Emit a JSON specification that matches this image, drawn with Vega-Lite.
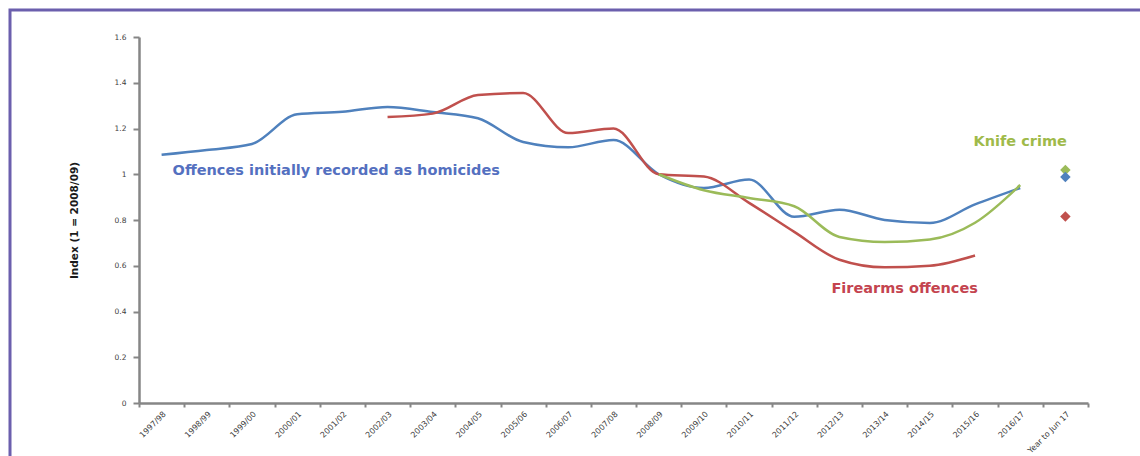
{
  "$schema": "https://vega.github.io/schema/vega-lite/v6.json",
  "width": 1140,
  "height": 456,
  "autosize": {"type": "none"},
  "padding": {"left": 10, "top": 10, "right": 0, "bottom": 0},
  "background": "white",
  "config": {
    "view": {"stroke": "#6b5fad", "strokeWidth": 3},
    "font": "DejaVu Sans"
  },
  "datasets": {
    "lines": [
      {"period": "1997/98", "series": "Homicides", "value": 1.085},
      {"period": "1998/99", "series": "Homicides", "value": 1.106},
      {"period": "1999/00", "series": "Homicides", "value": 1.132},
      {"period": "2000/01", "series": "Homicides", "value": 1.262},
      {"period": "2001/02", "series": "Homicides", "value": 1.273},
      {"period": "2002/03", "series": "Homicides", "value": 1.294},
      {"period": "2003/04", "series": "Homicides", "value": 1.272},
      {"period": "2004/05", "series": "Homicides", "value": 1.245},
      {"period": "2005/06", "series": "Homicides", "value": 1.141},
      {"period": "2006/07", "series": "Homicides", "value": 1.118},
      {"period": "2007/08", "series": "Homicides", "value": 1.15},
      {"period": "2008/09", "series": "Homicides", "value": 1.0},
      {"period": "2009/10", "series": "Homicides", "value": 0.94},
      {"period": "2010/11", "series": "Homicides", "value": 0.977},
      {"period": "2011/12", "series": "Homicides", "value": 0.814},
      {"period": "2012/13", "series": "Homicides", "value": 0.845},
      {"period": "2013/14", "series": "Homicides", "value": 0.8},
      {"period": "2014/15", "series": "Homicides", "value": 0.787},
      {"period": "2015/16", "series": "Homicides", "value": 0.868},
      {"period": "2016/17", "series": "Homicides", "value": 0.94},
      {"period": "2002/03", "series": "Firearms", "value": 1.25},
      {"period": "2003/04", "series": "Firearms", "value": 1.265},
      {"period": "2004/05", "series": "Firearms", "value": 1.346},
      {"period": "2005/06", "series": "Firearms", "value": 1.355},
      {"period": "2006/07", "series": "Firearms", "value": 1.18},
      {"period": "2007/08", "series": "Firearms", "value": 1.2},
      {"period": "2008/09", "series": "Firearms", "value": 1.0},
      {"period": "2009/10", "series": "Firearms", "value": 0.99},
      {"period": "2010/11", "series": "Firearms", "value": 0.875},
      {"period": "2011/12", "series": "Firearms", "value": 0.748},
      {"period": "2012/13", "series": "Firearms", "value": 0.626},
      {"period": "2013/14", "series": "Firearms", "value": 0.593},
      {"period": "2014/15", "series": "Firearms", "value": 0.6},
      {"period": "2015/16", "series": "Firearms", "value": 0.645},
      {"period": "2008/09", "series": "Knife crime", "value": 1.0},
      {"period": "2009/10", "series": "Knife crime", "value": 0.93},
      {"period": "2010/11", "series": "Knife crime", "value": 0.896},
      {"period": "2011/12", "series": "Knife crime", "value": 0.86},
      {"period": "2012/13", "series": "Knife crime", "value": 0.726},
      {"period": "2013/14", "series": "Knife crime", "value": 0.704},
      {"period": "2014/15", "series": "Knife crime", "value": 0.715},
      {"period": "2015/16", "series": "Knife crime", "value": 0.788},
      {"period": "2016/17", "series": "Knife crime", "value": 0.953}
    ],
    "points": [
      {"period": "Year to Jun 17", "series": "Knife crime", "value": 1.019},
      {"period": "Year to Jun 17", "series": "Firearms", "value": 0.815},
      {"period": "Year to Jun 17", "series": "Homicides", "value": 0.988}
    ]
  },
  "layer": [
    {
      "data": {"name": "lines"},
      "mark": {"type": "line", "interpolate": "monotone", "strokeWidth": 2.5},
      "encoding": {
        "x": {
          "field": "period",
          "type": "ordinal",
          "scale": {
            "type": "band",
            "domain": ["1997/98", "1998/99", "1999/00", "2000/01", "2001/02", "2002/03", "2003/04", "2004/05", "2005/06", "2006/07", "2007/08", "2008/09", "2009/10", "2010/11", "2011/12", "2012/13", "2013/14", "2014/15", "2015/16", "2016/17", "Year to Jun 17"],
            "range": [129, 1078],
            "paddingInner": 0,
            "paddingOuter": 0
          },
          "axis": {
            "title": null,
            "offset": -63,
            "labelAngle": -45,
            "labelFontSize": 8,
            "labelColor": "#404040",
            "labelPadding": 3,
            "tickBand": "extent",
            "tickSize": 4,
            "tickWidth": 2,
            "tickColor": "#868686",
            "domainColor": "#868686",
            "domainWidth": 2.5,
            "grid": false
          }
        },
        "y": {
          "field": "value",
          "type": "quantitative",
          "scale": {"domain": [0, 1.6], "range": [393, 27], "nice": false},
          "axis": {
            "title": "Index (1 = 2008/09)",
            "titleFontSize": 10.5,
            "titleFontWeight": "bold",
            "titleColor": "#1a1a1a",
            "titlePadding": 35,
            "offset": -129,
            "values": [0, 0.2, 0.4, 0.6, 0.8, 1, 1.2, 1.4, 1.6],
            "format": ".2~f",
            "labelFontSize": 7.5,
            "labelColor": "#404040",
            "labelPadding": 7,
            "tickSize": 6,
            "tickWidth": 2,
            "tickColor": "#868686",
            "domainColor": "#868686",
            "domainWidth": 2.5,
            "grid": false
          }
        },
        "color": {
          "field": "series",
          "type": "nominal",
          "scale": {"domain": ["Homicides", "Firearms", "Knife crime"], "range": ["#4f81bd", "#c0504d", "#9bbb59"]},
          "legend": null
        }
      }
    },
    {
      "data": {"name": "points"},
      "mark": {"type": "point", "shape": "diamond", "filled": true, "size": 110, "opacity": 1},
      "encoding": {
        "x": {"field": "period", "type": "ordinal"},
        "y": {"field": "value", "type": "quantitative"},
        "color": {"field": "series", "type": "nominal", "legend": null}
      }
    },
    {
      "data": {"values": [{"period": "1997/98", "value": 1.014, "label": "Offences initially recorded as homicides"}]},
      "mark": {"type": "text", "align": "left", "baseline": "middle", "dx": 11, "fontSize": 14.5, "fontWeight": "bold", "color": "#5470c0"},
      "encoding": {
        "x": {"field": "period", "type": "ordinal"},
        "y": {"field": "value", "type": "quantitative"},
        "text": {"field": "label"}
      }
    },
    {
      "data": {"values": [{"period": "2013/14", "value": 0.498, "label": "Firearms offences"}]},
      "mark": {"type": "text", "align": "center", "baseline": "middle", "dx": 20, "fontSize": 14.5, "fontWeight": "bold", "color": "#c4444f"},
      "encoding": {
        "x": {"field": "period", "type": "ordinal"},
        "y": {"field": "value", "type": "quantitative"},
        "text": {"field": "label"}
      }
    },
    {
      "data": {"values": [{"period": "2016/17", "value": 1.141, "label": "Knife crime"}]},
      "mark": {"type": "text", "align": "center", "baseline": "middle", "fontSize": 14.5, "fontWeight": "bold", "color": "#9fba4a"},
      "encoding": {
        "x": {"field": "period", "type": "ordinal"},
        "y": {"field": "value", "type": "quantitative"},
        "text": {"field": "label"}
      }
    }
  ]
}
